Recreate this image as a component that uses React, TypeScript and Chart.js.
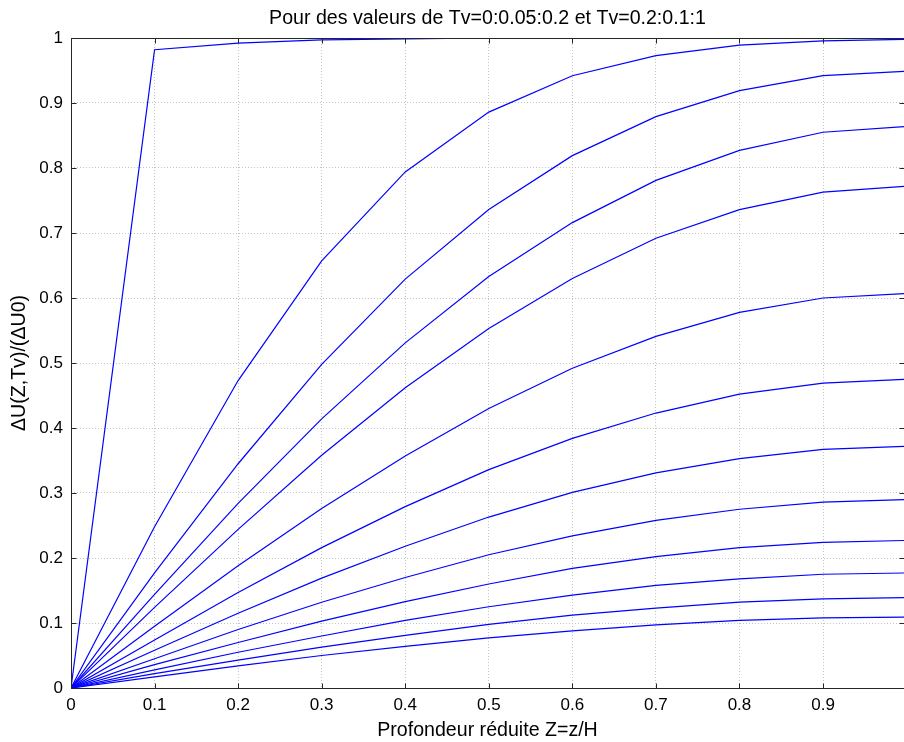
import React, { useEffect, useRef } from "react";
import { Chart, registerables } from "chart.js";

Chart.register(...registerables);

// Reduced depth Z = z/H
const zValues = [0, 0.1, 0.2, 0.3, 0.4, 0.5, 0.6, 0.7, 0.8, 0.9, 1.0];

// Time factors of each curve
const tvLabels = ["0", "0.05", "0.1", "0.15", "0.2", "0.3", "0.4", "0.5", "0.6", "0.7", "0.8", "0.9", "1"];

// ΔU(Z,Tv)/ΔU0
const tv000 = [0, 0.982, 0.992, 0.997, 0.9985, 1, 1, 1, 1, 1, 1];
const tv005 = [0, 0.248, 0.473, 0.657, 0.794, 0.886, 0.942, 0.973, 0.989, 0.9955, 0.998];
const tv010 = [0, 0.177, 0.345, 0.498, 0.629, 0.736, 0.819, 0.879, 0.919, 0.942, 0.949];
const tv015 = [0, 0.144, 0.284, 0.414, 0.531, 0.633, 0.716, 0.781, 0.827, 0.855, 0.864];
const tv020 = [0, 0.124, 0.244, 0.358, 0.462, 0.553, 0.63, 0.692, 0.736, 0.763, 0.772];
const tv030 = [0, 0.095, 0.188, 0.276, 0.357, 0.43, 0.492, 0.541, 0.578, 0.6, 0.607];
const tv040 = [0, 0.074, 0.147, 0.216, 0.279, 0.336, 0.384, 0.423, 0.452, 0.469, 0.475];
const tv050 = [0, 0.058, 0.115, 0.169, 0.218, 0.263, 0.301, 0.331, 0.353, 0.367, 0.372];
const tv060 = [0, 0.045, 0.09, 0.132, 0.17, 0.205, 0.234, 0.258, 0.275, 0.286, 0.29];
const tv070 = [0, 0.036, 0.07, 0.103, 0.133, 0.16, 0.184, 0.202, 0.216, 0.224, 0.227];
const tv080 = [0, 0.028, 0.055, 0.08, 0.104, 0.125, 0.143, 0.158, 0.168, 0.175, 0.177];
const tv090 = [0, 0.022, 0.043, 0.063, 0.081, 0.098, 0.112, 0.123, 0.132, 0.137, 0.139];
const tv100 = [0, 0.017, 0.034, 0.05, 0.064, 0.077, 0.088, 0.097, 0.104, 0.108, 0.109];

const seriesList = [tv000, tv005, tv010, tv015, tv020, tv030, tv040, tv050, tv060, tv070, tv080, tv090, tv100];

// Tick values and labels
const xTickValues = [0, 0.1, 0.2, 0.3, 0.4, 0.5, 0.6, 0.7, 0.8, 0.9];
const xTickLabels = ["0", "0.1", "0.2", "0.3", "0.4", "0.5", "0.6", "0.7", "0.8", "0.9"];
const yTickValues = [0, 0.1, 0.2, 0.3, 0.4, 0.5, 0.6, 0.7, 0.8, 0.9, 1];
const yTickLabels = ["0", "0.1", "0.2", "0.3", "0.4", "0.5", "0.6", "0.7", "0.8", "0.9", "1"];

const titleText = "Pour des valeurs de Tv=0:0.05:0.2 et Tv=0.2:0.1:1";
const xTitle = "Profondeur réduite Z=z/H";
const yTitle = "ΔU(Z,Tv)/(ΔU0)";

const FONT = "'Liberation Sans', Arial, Helvetica, sans-serif";

function labelFor(values: number[], labels: string[], v: number) {
  for (let i = 0; i < values.length; i++) {
    if (Math.abs(values[i] - v) < 1e-6) return labels[i];
  }
  return "";
}

const boxPlugin = {
  id: "matlabBox",
  afterDatasetsDraw(chart: any) {
    const { ctx, chartArea } = chart;
    const { left, right, top, bottom } = chartArea;
    const xs = chart.scales.x;
    const ys = chart.scales.y;
    ctx.save();
    ctx.strokeStyle = "#262626";
    ctx.lineWidth = 1;
    const L = Math.round(left) + 0.5;
    const R = Math.round(right) + 0.5;
    const T = Math.round(top) + 0.5;
    const B = Math.round(bottom) + 0.5;
    ctx.beginPath();
    ctx.rect(L, T, R - L, B - T);
    ctx.stroke();
    const tl = 5;
    ctx.beginPath();
    for (const v of xTickValues) {
      const px = Math.round(xs.getPixelForValue(v)) + 0.5;
      ctx.moveTo(px, B);
      ctx.lineTo(px, B - tl);
      ctx.moveTo(px, T);
      ctx.lineTo(px, T + tl);
    }
    for (const v of yTickValues) {
      const py = Math.round(ys.getPixelForValue(v)) + 0.5;
      ctx.moveTo(L, py);
      ctx.lineTo(L + tl, py);
      ctx.moveTo(R, py);
      ctx.lineTo(R - tl, py);
    }
    ctx.stroke();
    // title centred over the plot area
    ctx.fillStyle = "#000";
    ctx.font = "19.6px " + FONT;
    ctx.textAlign = "center";
    ctx.textBaseline = "alphabetic";
    ctx.fillText(titleText, (left + right) / 2, 24);
    ctx.restore();
  },
};

export default function App() {
  const canvasRef = useRef<HTMLCanvasElement | null>(null);

  useEffect(() => {
    const canvas = canvasRef.current;
    if (!canvas) return;
    const datasets = seriesList.map((s, k) => ({
      label: "Tv=" + tvLabels[k],
      data: zValues.map((z, i) => ({ x: z, y: s[i] })),
      borderColor: "#0000ff",
      backgroundColor: "#0000ff",
      borderWidth: 1.2,
      pointRadius: 0,
      tension: 0,
      fill: false,
    }));

    const chart = new Chart(canvas, {
      type: "line",
      data: { datasets },
      plugins: [boxPlugin],
      options: {
        animation: false,
        responsive: false,
        maintainAspectRatio: false,
        devicePixelRatio: 1,
        layout: { padding: { left: 0, right: 0, top: 38, bottom: 0 } },
        plugins: {
          legend: { display: false },
          tooltip: { enabled: false },
          title: { display: false },
        },
        scales: {
          x: {
            type: "linear",
            min: 0,
            max: 0.9969,
            afterFit: (scale: any) => {
              scale.height = 54;
            },
            ticks: {
              stepSize: 0.1,
              includeBounds: false,
              autoSkip: false,
              maxRotation: 0,
              padding: 7,
              color: "#000",
              font: { family: FONT, size: 17 },
              callback: (v: any) => labelFor(xTickValues, xTickLabels, Number(v)),
            },
            grid: { color: "#c4c4c4", lineWidth: 1, drawTicks: false },
            border: { display: false, dash: [1, 2] },
            title: {
              display: true,
              text: xTitle,
              color: "#000",
              font: { family: FONT, size: 19.6, lineHeight: 1.2 },
              padding: { top: 0, bottom: 0 },
            },
          },
          y: {
            type: "linear",
            min: 0,
            max: 1,
            afterFit: (scale: any) => {
              scale.width = 71;
            },
            ticks: {
              stepSize: 0.1,
              autoSkip: false,
              padding: 8,
              color: "#000",
              font: { family: FONT, size: 17 },
              callback: (v: any) => labelFor(yTickValues, yTickLabels, Number(v)),
            },
            grid: { color: "#c4c4c4", lineWidth: 1, drawTicks: false },
            border: { display: false, dash: [1, 2] },
            title: {
              display: true,
              text: yTitle,
              color: "#000",
              font: { family: FONT, size: 19.6, lineHeight: 1.2 },
              padding: { top: 8, bottom: 0 },
            },
          },
        },
      },
    } as any);

    return () => {
      chart.destroy();
    };
  }, []);

  return (
    <div style={{ position: "absolute", left: 0, top: 0, width: 904, height: 742, background: "#fff" }}>
      <canvas ref={canvasRef} width={904} height={742} style={{ display: "block", width: 904, height: 742 }} />
    </div>
  );
}
